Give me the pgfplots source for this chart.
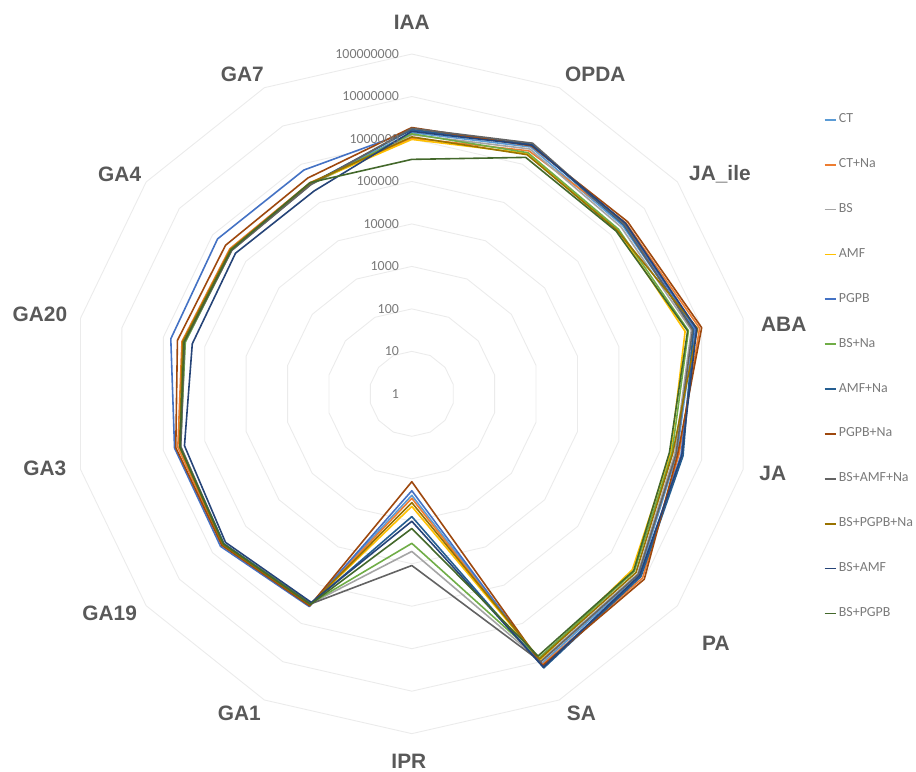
\documentclass[border=0pt]{standalone}
\usepackage{pgfplots}
\pgfplotsset{compat=1.18}
\usepackage{pgfplotstable}
\usepackage{fontspec}
\setmainfont{Carlito}
\newfontfamily\catfont{Liberation Sans}

\definecolor{c1}{HTML}{5B9BD5}
\definecolor{c2}{HTML}{ED7D31}
\definecolor{c3}{HTML}{A5A5A5}
\definecolor{c4}{HTML}{FFC000}
\definecolor{c5}{HTML}{4472C4}
\definecolor{c6}{HTML}{70AD47}
\definecolor{c7}{HTML}{255E91}
\definecolor{c8}{HTML}{9E480E}
\definecolor{c9}{HTML}{636363}
\definecolor{c10}{HTML}{997300}
\definecolor{c11}{HTML}{264478}
\definecolor{c12}{HTML}{43682B}
\definecolor{gridc}{HTML}{EBEBEB}
\definecolor{labc}{HTML}{595959}
\definecolor{tickc}{HTML}{7A7A7A}

% i: category index clockwise from IAA (0) ; row 14 repeats IAA to close the polygon
\pgfplotstableread{
i  CT       CTNa     BS       AMF      PGPB     BSNa     AMFNa    PGPBNa   BSAMFNa  BSPGPBNa BSAMF    BSPGPB
0  1410000  1050000  1260000  977000   1580000  1320000  1660000  1860000  1780000  1120000  1510000  331000
1  2820000  2240000  2510000  1910000  3160000  2000000  3310000  3020000  3550000  1780000  3160000  1510000
2  2240000  2820000  2000000  1580000  2630000  1660000  2400000  3160000  2510000  1510000  2750000  1410000
3  6610000  8910000  5620000  3980000  7080000  4790000  6310000  10000000 6030000  7940000  7590000  4570000
4  2510000  2820000  2240000  1780000  3160000  1910000  3550000  2630000  2400000  2000000  3310000  1660000
5  7080000  8910000  6310000  4370000  7590000  5010000  7940000  10000000 6610000  5620000  7240000  4790000
6  11200000 12000000 9550000  8910000  13200000 7940000  14500000 12600000 10000000 8510000  13800000 7080000
7  245      288      5130     447      191      3310     776      117      11000    363      1000     1480
8  316000   331000   302000   316000   363000   295000   316000   347000   309000   324000   282000   316000
9  479000   501000   457000   479000   575000   468000   457000   525000   479000   490000   407000   468000
10 398000   447000   380000   398000   537000   389000   398000   501000   380000   407000   309000   398000
11 316000   355000   302000   331000   661000   295000   316000   457000   309000   339000   200000   316000
12 275000   302000   263000   282000   708000   269000   275000   407000   263000   288000   204000   275000
13 309000   331000   295000   316000   708000   302000   309000   437000   295000   324000   200000   331000
14 1410000  1050000  1260000  977000   1580000  1320000  1660000  1860000  1780000  1120000  1510000  331000
}\data

\pgfplotstableread{
i  d
0  0
1  0
2  0
3  0
4  0
5  0
6  0
7  0
8  0
9  0
10 0
11 0
12 0
13 0
14 0
}\angles

\newcommand{\ser}[3]{%
  \addplot[color=#2, line width=1.6bp, line join=round]
    table[x expr={log10(\thisrow{#1})*cos(90-\thisrow{i}*360/14)},
          y expr={log10(\thisrow{#1})*sin(90-\thisrow{i}*360/14)}]{\data};
  \addlegendentry{#3}}

\begin{document}
\begin{tikzpicture}
\begin{axis}[
  x=42.6bp, y=42.6bp,
  xmin=-9.695, xmax=11.808, ymin=-8.897, ymax=9.272,
  hide axis, clip=false,
  legend cell align=left,
  legend image code/.code={\draw[#1, line width=1.8bp] (0bp,0bp) -- (12bp,0bp);},
  legend style={at={(axis cs:9.62,6.643)}, anchor=north west, draw=none, fill=none,
    font=\fontsize{14}{14}\selectfont, text=tickc, row sep=33bp, column sep=1.5bp,
    nodes={inner sep=0pt, text height=9bp, text depth=3bp}},
]
\path (axis description cs:0,0) rectangle (axis description cs:1,1);
\pgfplotsinvokeforeach{1,...,8}{
  \addplot[gridc, line width=0.9bp, forget plot]
    table[x expr={#1*cos(90-\thisrow{i}*360/14)},
          y expr={#1*sin(90-\thisrow{i}*360/14)}]{\angles};
}
\ser{CT}{c1}{CT}
\ser{CTNa}{c2}{CT+Na}
\ser{BS}{c3}{BS}
\ser{AMF}{c4}{AMF}
\ser{PGPB}{c5}{PGPB}
\ser{BSNa}{c6}{BS+Na}
\ser{AMFNa}{c7}{AMF+Na}
\ser{PGPBNa}{c8}{PGPB+Na}
\ser{BSAMFNa}{c9}{BS+AMF+Na}
\ser{BSPGPBNa}{c10}{BS+PGPB+Na}
\ser{BSAMF}{c11}{BS+AMF}
\ser{BSPGPB}{c12}{BS+PGPB}

\begin{scope}[every node/.style={anchor=east, text=tickc, font=\fontsize{14}{14}\selectfont, inner sep=0pt}]
\node at (axis cs:-0.3,0) {1};
\node at (axis cs:-0.3,1) {10};
\node at (axis cs:-0.3,2) {100};
\node at (axis cs:-0.3,3) {1000};
\node at (axis cs:-0.3,4) {10000};
\node at (axis cs:-0.3,5) {100000};
\node at (axis cs:-0.3,6) {1000000};
\node at (axis cs:-0.3,7) {10000000};
\node at (axis cs:-0.3,8) {100000000};
\end{scope}

\begin{scope}[every node/.style={text=labc, font=\catfont\bfseries\fontsize{21}{21}\selectfont, inner sep=0pt}]
\node at (axis cs:0,8.756) {IAA};
\node at (axis cs:4.319,7.512) {OPDA};
\node at (axis cs:7.254,5.164) {JA\_ile};
\node at (axis cs:8.756,1.643) {ABA};
\node at (axis cs:8.498,-1.878) {JA};
\node at (axis cs:7.160,-5.869) {PA};
\node at (axis cs:3.991,-7.512) {SA};
\node at (axis cs:-0.070,-8.66) {IPR};
\node at (axis cs:-4.061,-7.512) {GA1};
\node at (axis cs:-7.113,-5.164) {GA19};
\node at (axis cs:-8.638,-1.761) {GA3};
\node at (axis cs:-8.756,1.878) {GA20};
\node at (axis cs:-6.878,5.164) {GA4};
\node at (axis cs:-3.991,7.512) {GA7};
\end{scope}
\end{axis}
\end{tikzpicture}
\end{document}
